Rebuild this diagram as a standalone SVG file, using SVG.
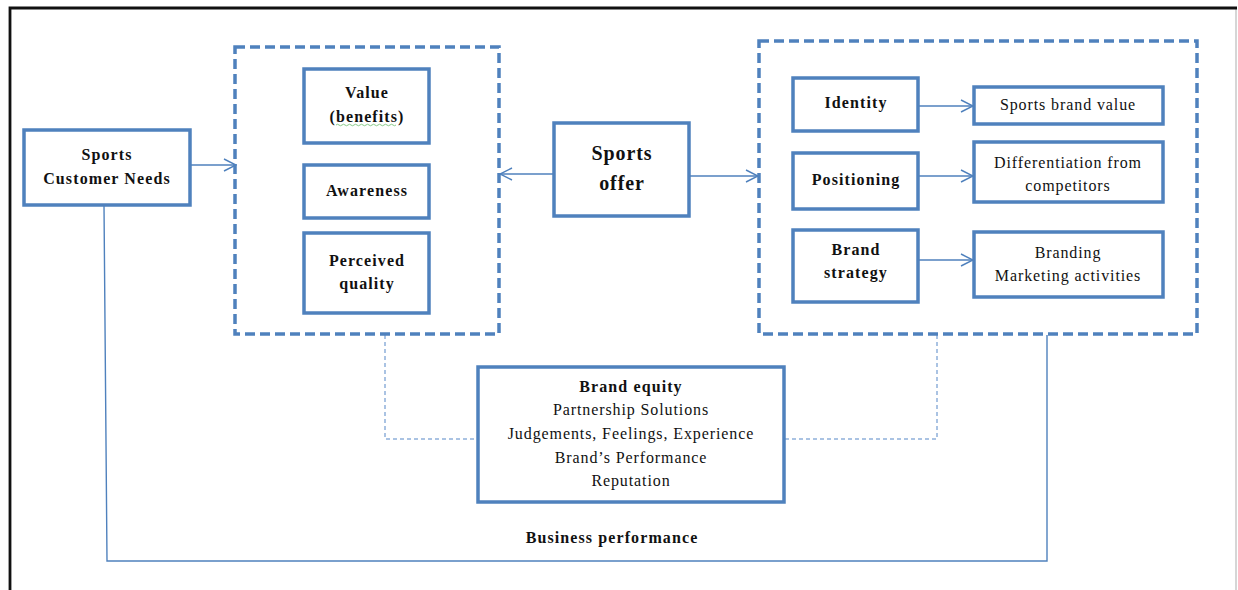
<svg xmlns="http://www.w3.org/2000/svg" width="1238" height="590" viewBox="0 0 1238 590">
  <style>
    .node { fill: #ffffff; stroke: #4F81BD; stroke-width: 3.5; }
    .group { fill: none; stroke: #4F81BD; stroke-width: 3.5; stroke-dasharray: 10 5; }
    .link { fill: none; stroke: #4F81BD; stroke-width: 1.4; }
    .dotted { fill: none; stroke: #8FB0DA; stroke-width: 1.5; stroke-dasharray: 4 3; }
    text { font-family: "Liberation Serif", "Times New Roman", serif; fill: #111111; text-anchor: middle; }
    .b { font-weight: bold; font-size: 16px; letter-spacing: 1.1px; }
    .r { font-size: 16px; letter-spacing: 0.9px; }
    .big { font-weight: bold; font-size: 20px; letter-spacing: 0.9px; }
  </style>
  <defs>
    <marker id="open" viewBox="0 0 14 14" refX="13" refY="7" markerWidth="14" markerHeight="14" markerUnits="userSpaceOnUse" orient="auto">
      <path d="M1,1 L13,7 L1,13" fill="none" stroke="#4F81BD" stroke-width="1.4"/>
    </marker>
  </defs>

  <rect width="1238" height="590" fill="#ffffff"/>

  <!-- page frame -->
  <g id="frame">
    <line x1="1236" y1="8" x2="1236" y2="590" stroke="#C9C9C9" stroke-width="1.5"/>
    <path d="M10,590 L10,8 L1237,8" fill="none" stroke="#111111" stroke-width="2.8"/>
  </g>

  <!-- connectors -->
  <g id="connectors">
    <line class="link" x1="190" y1="165" x2="236" y2="165" marker-end="url(#open)"/>
    <line class="link" x1="554" y1="174" x2="500" y2="174" marker-end="url(#open)"/>
    <line class="link" x1="689" y1="176" x2="758" y2="176" marker-end="url(#open)"/>
    <line class="link" x1="918" y1="106" x2="973" y2="106" marker-end="url(#open)"/>
    <line class="link" x1="918" y1="176" x2="973" y2="176" marker-end="url(#open)"/>
    <line class="link" x1="918" y1="260" x2="973" y2="260" marker-end="url(#open)"/>
    <path class="dotted" d="M385,335 L385,439 L478,439"/>
    <path class="dotted" d="M937,335 L937,439 L785,439"/>
    <path class="link" d="M104,205 L107,561 L1047,561 L1047,335"/>
  </g>

  <!-- dashed groupings -->
  <g id="perception-group">
    <rect class="group" x="235" y="47" width="264" height="287"/>
  </g>
  <g id="brand-group">
    <rect class="group" x="759" y="41" width="438" height="293"/>
  </g>

  <g id="customer-needs">
    <rect class="node" x="24" y="130" width="166" height="75"/>
    <text class="b" x="107" y="160">Sports</text>
    <text class="b" x="107" y="184">Customer Needs</text>
  </g>

  <g id="value">
    <rect class="node" x="304" y="69" width="125" height="74"/>
    <text class="b" x="367" y="98">Value</text>
    <text class="b" x="367" y="122">(benefits)</text>
    <path d="M336,125 q1.5,-1.5 3,0 t3,0 t3,0 t3,0 t3,0 t3,0 t3,0 t3,0 t3,0 t3,0 t3,0 t3,0 t3,0 t3,0 t3,0 t3,0 t3,0 t3,0 t3,0 t3,0" fill="none" stroke="#7CC47C" stroke-width="0.9"/>
  </g>

  <g id="awareness">
    <rect class="node" x="304" y="165" width="125" height="53"/>
    <text class="b" x="367" y="196">Awareness</text>
  </g>

  <g id="perceived-quality">
    <rect class="node" x="304" y="233" width="125" height="80"/>
    <text class="b" x="367" y="266">Perceived</text>
    <text class="b" x="367" y="289">quality</text>
  </g>

  <g id="sports-offer">
    <rect class="node" x="554" y="123" width="135" height="93"/>
    <text class="big" x="622" y="160">Sports</text>
    <text class="big" x="622" y="190">offer</text>
  </g>

  <g id="identity">
    <rect class="node" x="793" y="78" width="125" height="53"/>
    <text class="b" x="856" y="108">Identity</text>
  </g>

  <g id="positioning">
    <rect class="node" x="793" y="153" width="125" height="56"/>
    <text class="b" x="856" y="185">Positioning</text>
  </g>

  <g id="brand-strategy">
    <rect class="node" x="793" y="230" width="125" height="72"/>
    <text class="b" x="856" y="255">Brand</text>
    <text class="b" x="856" y="278">strategy</text>
  </g>

  <g id="brand-value">
    <rect class="node" x="974" y="87" width="189" height="37"/>
    <text class="r" x="1068" y="110">Sports brand value</text>
  </g>

  <g id="differentiation">
    <rect class="node" x="974" y="142" width="189" height="60"/>
    <text class="r" x="1068" y="168">Differentiation from</text>
    <text class="r" x="1068" y="191">competitors</text>
  </g>

  <g id="branding">
    <rect class="node" x="974" y="232" width="189" height="65"/>
    <text class="r" x="1068" y="258">Branding</text>
    <text class="r" x="1068" y="281">Marketing activities</text>
  </g>

  <g id="brand-equity">
    <rect class="node" x="478" y="367" width="306" height="135"/>
    <text class="b" x="631" y="392">Brand equity</text>
    <text class="r" x="631" y="415">Partnership Solutions</text>
    <text class="r" x="631" y="439">Judgements, Feelings,  Experience</text>
    <text class="r" x="631" y="463">Brand’s Performance</text>
    <text class="r" x="631" y="486">Reputation</text>
  </g>

  <g id="business-performance">
    <text class="b" x="612" y="543">Business performance</text>
  </g>
</svg>
